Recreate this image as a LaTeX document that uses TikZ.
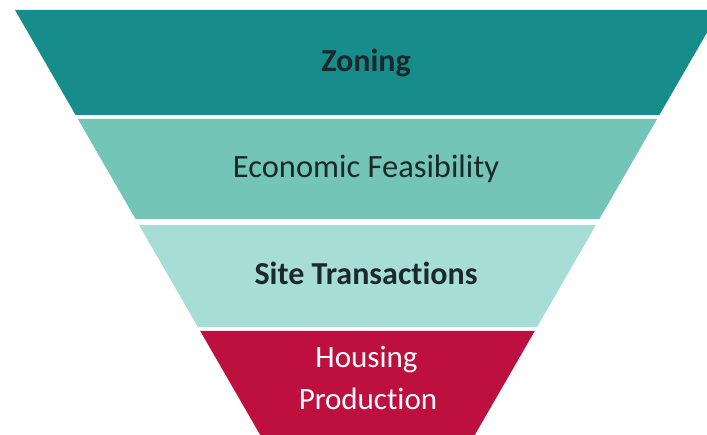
\documentclass[tikz,border=0pt]{standalone}
\usepackage{fontspec}
\setmainfont{Carlito}[Ligatures=NoCommon]
\usetikzlibrary{positioning}
\definecolor{zoningteal}{RGB}{22,141,138}
\definecolor{feasteal}{RGB}{114,197,183}
\definecolor{siteteal}{RGB}{166,221,215}
\definecolor{housingred}{RGB}{190,16,62}
\definecolor{darktext}{RGB}{28,40,44}
\tikzset{
  funnel/.style={
	x=1pt, y=-1pt, % one unit is one pixel, y runs down
  },
  layer/.style={draw=none}, % the bands of the funnel
  darklabel/.style={text=darktext, inner sep=0pt, anchor=base},
  lightlabel/.style={text=white, inner sep=0pt, anchor=base, font=\fontsize{31}{36}\selectfont},
}
% slanted sides of the funnel: 60 degree walls
\newcommand{\leftwall}[1]{{15+0.577*(#1-10)}}
\newcommand{\rightwall}[1]{{720-0.577*(#1-10)}}

\begin{document}
\begin{tikzpicture}[funnel]
	  \useasboundingbox (0,0) rectangle (707,435);
	  \clip (0,0) rectangle (707,435);

	  \foreach \top/\bot/\col in {10/115/zoningteal, 119/219/feasteal, 225/327/siteteal, 331/445/housingred}
		  \fill[layer, \col] (\leftwall{\top},\top) -- (\rightwall{\top},\top)
			  -- (\rightwall{\bot},\bot) -- (\leftwall{\bot},\bot) -- cycle;

	  \node[darklabel, font=\fontsize{32}{36}\selectfont\bfseries] (zoning) at (366,72) {Zoning};
	  \node[darklabel, font=\fontsize{32.5}{36}\selectfont] (feasibility) at (366,178) {Economic Feasibility};
	  \node[darklabel, font=\fontsize{32}{36}\selectfont\bfseries] (site) at (366,285) {Site Transactions};
	  \node[lightlabel] (housing) at (366.5,368) {Housing};
	  \node[lightlabel] (production) at (368,410) {Production};
	  \end{tikzpicture}
\end{document}
